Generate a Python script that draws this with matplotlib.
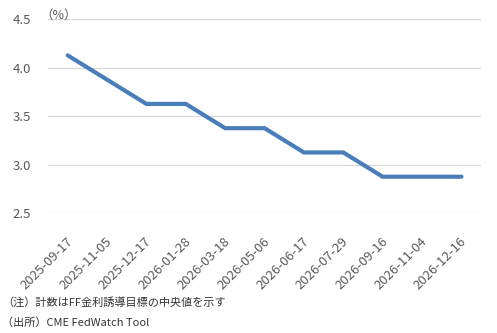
import matplotlib
matplotlib.use('Agg')
import matplotlib.pyplot as plt
import matplotlib.transforms as mtransforms

plt.rcParams['font.family'] = ['Noto Sans CJK JP', 'DejaVu Sans']

# FOMC meeting dates and implied FF target midpoint (%)
dates = ['2025-09-17', '2025-11-05', '2025-12-17', '2026-01-28', '2026-03-18',
         '2026-05-06', '2026-06-17', '2026-07-29', '2026-09-16', '2026-11-04',
         '2026-12-16']
rates = [4.125, 3.875, 3.625, 3.625, 3.375, 3.375, 3.125, 3.125, 2.875, 2.875, 2.875]
yticks = [2.5, 3.0, 3.5, 4.0, 4.5]

fig = plt.figure(figsize=(4.97, 3.33), dpi=100)
ax = fig.add_axes([0.0966, 0.36, 0.8714, 0.583])

x = list(range(len(dates)))
ax.plot(x, rates, color='#4A7EBB', linewidth=3.0, solid_capstyle='round',
        solid_joinstyle='miter')

ax.set_xlim(-0.5, len(dates) - 0.5)
ax.set_ylim(2.5, 4.5)
ax.set_yticks(yticks)
ax.set_yticklabels(['%.1f' % v for v in yticks], fontsize=9.5, color='#595959')
ax.set_xticks(x)
ax.set_xticklabels(dates, rotation=45, ha='right', va='center',
                   rotation_mode='anchor', fontsize=9.5, color='#595959')
ax.tick_params(axis='y', length=0, pad=12)
ax.tick_params(axis='x', length=0, pad=19)
# nudge the rotated labels right so their ends sit under the points
shift = mtransforms.ScaledTranslation(3 / 100, 0, fig.dpi_scale_trans)
for lab in ax.get_xticklabels():
    lab.set_transform(lab.get_transform() + shift)
ax.grid(axis='y', color='#D9D9D9', linewidth=0.9)
ax.set_axisbelow(True)
for s in ax.spines.values():
    s.set_visible(False)

fig.text(40 / 497, 1 - 15 / 333, '（%）', fontsize=9, color='#595959', va='center')
fig.text(2 / 497, 1 - 302 / 333, '（注）計数はFF金利誘導目標の中央値を示す', fontsize=8,
         color='#333333', va='center')
fig.text(2 / 497, 1 - 323 / 333, '（出所）CME FedWatch Tool', fontsize=8,
         color='#333333', va='center')

fig.savefig('out.png', dpi=100)
